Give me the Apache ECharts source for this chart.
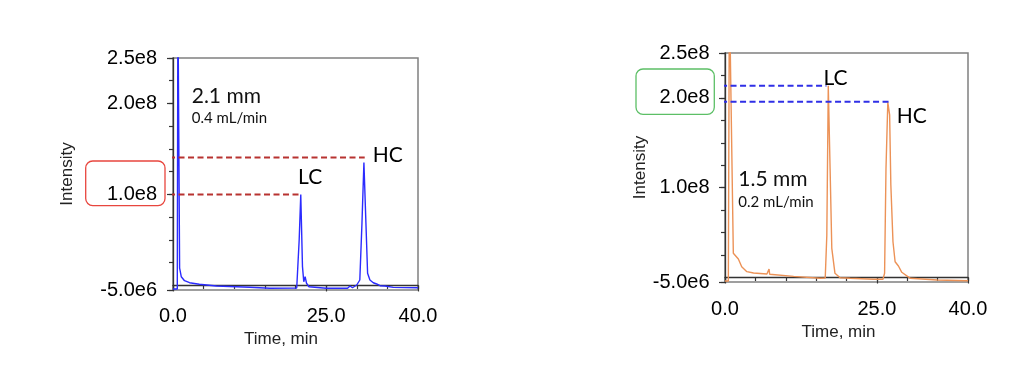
<!DOCTYPE html>
<html>
<head>
<meta charset="utf-8">
<script src="https://cdn.jsdelivr.net/npm/echarts@6/dist/echarts.min.js"></script>
<style>
html,body{margin:0;padding:0;background:#fff;}
#c{width:1024px;height:372px;}
</style>
</head>
<body>
<div id="c"></div>
<script>
// ---- data ----
const leftTime = [0, 0.7, 0.8, 0.95, 1.08, 1.35, 1.88, 2.7, 4.3, 7.1, 12.5, 15.8, 20.2, 20.4, 20.6, 20.86, 21.14, 21.35, 21.57, 21.8, 22.2, 25, 28.5, 28.9, 29.3, 30.0, 30.5, 30.85, 31.17, 31.5, 31.77, 32.15, 32.7, 33.25, 33.8, 34.6, 35.95, 40];
const leftIntensity = [-3.9e6, -3.9e6, 3.2e8, 3.2e8, 1.9e7, 9.6e6, 5.2e6, 3.0e6, 1.3e6, -0.6e6, -2.0e6, -3.1e6, -2.8e6, -1.4e6, 5.0e7, 1.0e8, 2.07e7, 4.1e6, 9.6e6, 2.4e6, -1.4e6, -3.0e6, -3.0e6, -0.6e6, -2.5e6, 0.5e6, 6.0e6, 6.8e7, 1.35e8, 6.8e7, 1.34e7, 6.0e6, 3.0e6, 1.6e6, -0.3e6, -0.6e6, -2.1e6, -2.5e6];

const rightTime = [0, 0.55, 0.72, 1.0, 1.37, 1.65, 2.2, 2.75, 3.6, 4.7, 6.9, 7.15, 7.25, 7.35, 11.3, 15.65, 16.5, 16.76, 17.0, 17.3, 17.58, 17.85, 18.1, 18.95, 20.6, 24.45, 26.0, 26.27, 26.5, 26.8, 27.1, 27.3, 27.65, 28.0, 28.55, 29.1, 30.5, 34.9, 40];
const rightIntensity = [-3.9e6, -3.9e6, 3.2e8, 3.2e8, 2.7e7, 2.5e7, 2.06e7, 1.2e7, 6.5e6, 5.0e6, 3.9e6, 3.9e6, 9.5e6, 3.7e6, 1.3e6, -0.9e6, -0.5e6, 4.7e7, 2.135e8, 1.21e8, 3.25e7, 3.06e7, 4.7e6, -0.2e6, -0.9e6, -2.0e6, -2.0e6, 4.7e6, 1.21e8, 1.95e8, 1.81e8, 1.03e8, 3.98e7, 1.76e7, 1.28e7, 5.8e6, -0.9e6, -2.8e6, -3.6e6];

// reference (dashed) lines: [start time, end time, level]
const leftLC = [-0.65, 20.75, 1.0e8];
const leftHC = [-0.65, 31.3, 1.405e8];
const rightLC = [-0.65, 16.7, 2.135e8];
const rightHC = [-0.65, 27.45, 1.956e8];

const yTicks = [-5e6, 2.5e7, 5e7, 7.5e7, 1e8, 1.25e8, 1.5e8, 1.75e8, 2e8, 2.25e8, 2.5e8];
const yLabels = [-5e6, 1e8, 2e8, 2.5e8];
const xTicks = [0, 5, 10, 15, 20, 25, 30, 35, 40];
const xLabels = [0, 25, 40];

const leftTitle = ['2.1 mm', '0.4 mL/min'];
const rightTitle = ['1.5 mm', '0.2 mL/min'];

// ---- build ----
const zip = (a, b) => a.map((v, i) => [v, b[i]]);
const AX = '#333';
const FONT = 'Liberation Sans';
const fmtY = v => v === -5e6 ? '-5.0e6' : (v / 1e8).toFixed(1) + 'e8';

function yAxes(gridIndex, nameGap, margin) {
  return [{
    type: 'value', gridIndex, position: 'left', min: -5e6, max: 2.5e8, offset: 4,
    name: 'Intensity', nameLocation: 'middle', nameGap,
    nameTextStyle: {fontFamily: FONT, fontSize: 17, color: '#222'},
    axisLine: {show: true, lineStyle: {color: AX, width: 1.3}},
    axisTick: {show: true, customValues: yTicks, length: 4, lineStyle: {color: AX, width: 1.2}},
    axisLabel: {customValues: yLabels, formatter: fmtY, fontFamily: FONT, fontSize: 20, color: '#000', margin},
    splitLine: {show: false}
  }, {
    type: 'value', gridIndex, position: 'left', min: -5e6, max: 2.5e8, offset: 4,
    axisLine: {show: false},
    axisTick: {show: true, customValues: yLabels, length: 6, lineStyle: {color: AX, width: 1.2}},
    axisLabel: {show: false}, splitLine: {show: false}
  }];
}
function xAxes(gridIndex, offset, namePad, nameGap) {
  return [{
    type: 'value', gridIndex, position: 'bottom', min: 0, max: 40, offset,
    name: 'Time, min', nameLocation: 'middle', nameGap,
    nameTextStyle: {fontFamily: FONT, fontSize: 17, color: '#222', padding: [0, namePad, 0, 0]},
    axisLine: {show: true, lineStyle: {color: AX, width: 1.3}},
    axisTick: {show: true, customValues: xTicks, length: 3.5, lineStyle: {color: AX, width: 1.2}},
    axisLabel: {customValues: xLabels, formatter: v => v.toFixed(1), fontFamily: FONT, fontSize: 20, color: '#000', margin: 9},
    splitLine: {show: false}
  }, {
    type: 'value', gridIndex, position: 'bottom', min: 0, max: 40, offset,
    axisLine: {show: false},
    axisTick: {show: true, customValues: xLabels, length: 6, lineStyle: {color: AX, width: 1.2}},
    axisLabel: {show: false}, splitLine: {show: false}
  }];
}
function dashed(line, xi, yi, color, text, offset) {
  return {
    type: 'line', xAxisIndex: xi, yAxisIndex: yi, clip: false, symbol: 'none', silent: true,
    data: [[line[0], line[2]], [line[1], line[2]]],
    lineStyle: {color, width: 2, type: [6, 3.5]},
    endLabel: {show: true, formatter: text, offset, fontFamily: 'Lato', fontSize: 21, color: '#000'}
  };
}
function trace(t, v, xi, yi, color) {
  return {
    type: 'line', xAxisIndex: xi, yAxisIndex: yi, symbol: 'none', clip: true, silent: true,
    data: zip(t, v), lineStyle: {color, width: 1.4}
  };
}

const chart = echarts.init(document.getElementById('c'), null, {renderer: 'canvas'});
chart.setOption({
  animation: false,
  backgroundColor: '#fff',
  grid: [
    {left: 173, top: 58, right: 606, bottom: 82, show: true, borderColor: '#808080', borderWidth: 1.5, backgroundColor: 'transparent', outerBoundsMode: 'none', containLabel: false},
    {left: 725, top: 53, right: 56, bottom: 90, show: true, borderColor: '#808080', borderWidth: 1.5, backgroundColor: 'transparent', outerBoundsMode: 'none', containLabel: false}
  ],
  xAxis: [...xAxes(0, 7, 29, 28), ...xAxes(1, 8, 16, 28)],
  yAxis: [...yAxes(0, 93, 12), ...yAxes(1, 70, 11.5)],
  series: [
    trace(leftTime, leftIntensity, 0, 0, '#2b2bff'),
    trace(rightTime, rightIntensity, 2, 2, '#ec9257'),
    dashed(leftLC, 0, 0, '#b83330', 'LC', [-10, -17]),
    dashed(leftHC, 0, 0, '#b83330', 'HC', [0, -2]),
    dashed(rightLC, 2, 2, '#2f2fe6', 'LC', [-11, -8]),
    dashed(rightHC, 2, 2, '#2f2fe6', 'HC', [-3, 14.5])
  ],
  graphic: [
    {type: 'text', x: 191.7, y: 96, style: {text: leftTitle[0], font: '21px Lato', fill: '#111', verticalAlign: 'middle'}},
    {type: 'text', x: 191.7, y: 118, style: {text: leftTitle[1], font: '15px Lato', fill: '#111', verticalAlign: 'middle'}},
    {type: 'text', x: 738.3, y: 179, style: {text: rightTitle[0], font: '21px Lato', fill: '#111', verticalAlign: 'middle'}},
    {type: 'text', x: 738.3, y: 202, style: {text: rightTitle[1], font: '15px Lato', fill: '#111', verticalAlign: 'middle'}},
    {type: 'rect', shape: {x: 85.7, y: 161, width: 79.3, height: 44.6, r: 7}, style: {fill: 'none', stroke: '#e8463e', lineWidth: 1.3}},
    {type: 'rect', shape: {x: 636, y: 69, width: 78.3, height: 45.3, r: 7}, style: {fill: 'none', stroke: '#5cbf66', lineWidth: 1.3}}
  ]
});
</script>
</body>
</html>
